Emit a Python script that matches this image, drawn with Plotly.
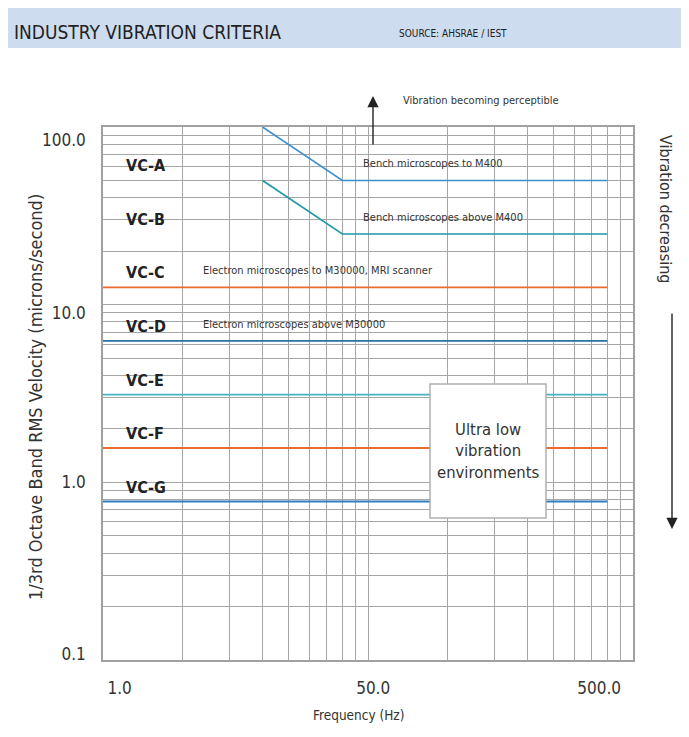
import math
import plotly.graph_objects as go

# ---- data ----
criteria = ["VC-A", "VC-B", "VC-C", "VC-D", "VC-E", "VC-F", "VC-G"]
freq_slope = [4, 8, 80]          # Hz, VC-A / VC-B
vc_a = [100, 50, 50]             # microns/second
vc_b = [50, 25, 25]
freq_flat = [1, 80]              # Hz, VC-C .. VC-G
flat_levels = [12.5, 6.25, 3.12, 1.56, 0.78]
level_at_label = [50, 25, 12.5, 6.25, 3.12, 1.56, 0.78]
colors = ["#3b8fce", "#1b9aa6", "#ee6a2f", "#2571aa", "#45b3c4", "#ee6a2f", "#2d7fbf"]

descriptions = [
    ("Bench microscopes to M400", 9.4, 50),
    ("Bench microscopes above M400", 9.4, 25),
    ("Electron microscopes to M30000, MRI scanner", 2.35, 12.5),
    ("Electron microscopes above M30000", 2.35, 6.25),
]

x_tick_vals = [1.156, 10.46, 74.5]
x_tick_text = ["1.0", "50.0", "500.0"]
y_tick_vals = [84, 9.0, 1.0, 0.108]
y_tick_text = ["100.0", "10.0", "1.0", "0.1"]

x_grid = [2, 3, 4, 5, 6, 7, 8, 9, 10, 20, 30, 40, 50, 60, 70, 80, 90]
y_grid = [0.2, 0.3, 0.4, 0.5, 0.6, 0.7, 0.8, 0.9, 1, 2, 3, 4, 5, 6, 7, 8, 9,
          10, 20, 30, 40, 50, 60, 70, 80, 90]

FONT = "Liberation Sans Narrow, DejaVu Sans Condensed, Roboto, sans-serif"
TXT = "#333333"

OFF = 8  # page body margin
W, H = 673, 721
L, T = 95, 119
PW, PH = 530, 533
R, B = W - L - PW, H - T - PH


def px(x):
    return (x - OFF - L) / PW


def py(y):
    return (OFF + T + PH - y) / PH


fig = go.Figure()
fig.add_trace(go.Scatter(x=freq_slope, y=vc_a, mode="lines", name="VC-A",
                         line=dict(color=colors[0], width=1.6)))
fig.add_trace(go.Scatter(x=freq_slope, y=vc_b, mode="lines", name="VC-B",
                         line=dict(color=colors[1], width=1.6)))
for i, lev in enumerate(flat_levels):
    fig.add_trace(go.Scatter(x=freq_flat, y=[lev, lev], mode="lines",
                             name=criteria[i + 2],
                             line=dict(color=colors[i + 2], width=1.8)))

annotations = []
# VC labels
for name, lev in zip(criteria, level_at_label):
    annotations.append(dict(x=math.log10(1.2), y=math.log10(lev), xref="x", yref="y",
                            text="<b>" + name + "</b>", showarrow=False,
                            xanchor="left", yanchor="bottom", yshift=3,
                            font=dict(family=FONT, size=16, color="#222222")))
for text, fx, lev in descriptions:
    annotations.append(dict(x=math.log10(fx), y=math.log10(lev), xref="x", yref="y",
                            text=text, showarrow=False, xanchor="left",
                            yanchor="bottom", yshift=8,
                            font=dict(family=FONT, size=11, color=TXT)))

# title banner texts
annotations.append(dict(x=px(12), y=py(32), xref="paper", yref="paper",
                        text="INDUSTRY VIBRATION CRITERIA", showarrow=False,
                        xanchor="left", yanchor="middle",
                        font=dict(family=FONT, size=19, color="#222222")))
annotations.append(dict(x=px(397), y=py(34), xref="paper", yref="paper",
                        text="SOURCE: AHSRAE / IEST", showarrow=False,
                        xanchor="left", yanchor="middle",
                        font=dict(family=FONT, size=10, color="#222222")))
# perceptible arrow + text
annotations.append(dict(x=px(373), y=py(96), xref="paper", yref="paper",
                        ax=0, ay=50, text="", showarrow=True, arrowhead=2,
                        arrowsize=1.6, arrowwidth=1.4, arrowcolor="#222222"))
annotations.append(dict(x=px(401), y=py(101), xref="paper", yref="paper",
                        text="Vibration becoming perceptible", showarrow=False,
                        xanchor="left", yanchor="middle",
                        font=dict(family=FONT, size=11, color=TXT)))
# decreasing
annotations.append(dict(x=px(666), y=py(209), xref="paper", yref="paper",
                        text="Vibration decreasing", showarrow=False, textangle=90,
                        xanchor="center", yanchor="middle",
                        font=dict(family=FONT, size=16, color=TXT)))
annotations.append(dict(x=px(672), y=py(529), xref="paper", yref="paper",
                        ax=0, ay=-217, text="", showarrow=True, arrowhead=2,
                        arrowsize=1.6, arrowwidth=1.4, arrowcolor="#222222"))
# box text
annotations.append(dict(x=px(488), y=py(451), xref="paper", yref="paper",
                        text="Ultra low<br>vibration<br>environments", showarrow=False,
                        xanchor="center", yanchor="middle", align="center",
                        font=dict(family=FONT, size=16.5, color=TXT)))
# axis titles
annotations.append(dict(x=px(35), y=py(397), xref="paper", yref="paper",
                        text="1/3rd Octave Band RMS Velocity (microns/second)",
                        showarrow=False, textangle=-90,
                        xanchor="center", yanchor="middle",
                        font=dict(family=FONT, size=18, color=TXT)))
annotations.append(dict(x=px(358), y=py(715), xref="paper", yref="paper",
                        text="Frequency (Hz)", showarrow=False,
                        xanchor="center", yanchor="middle",
                        font=dict(family=FONT, size=13.5, color=TXT)))

shapes = [
    dict(type="rect", xref="paper", yref="paper", x0=px(5), x1=px(686),
         y0=py(48), y1=py(8), fillcolor="#cddcee", line=dict(width=0), layer="below"),
    dict(type="rect", xref="paper", yref="paper", x0=px(430), x1=px(546),
         y0=py(518), y1=py(384), fillcolor="white",
         line=dict(color="#b0b0b0", width=1.5), layer="above"),
]

grid_color = "#a6a6a6"
fig.update_layout(
    width=W, height=H, autosize=False,
    margin=dict(l=L, r=R, t=T, b=B, pad=0),
    paper_bgcolor="white", plot_bgcolor="white",
    showlegend=False,
    annotations=annotations, shapes=shapes,
    xaxis=dict(type="log", range=[0, 2], tickmode="array",
               tickvals=x_tick_vals, ticktext=x_tick_text, showgrid=False,
               ticks="", ticklabelstandoff=12,
               tickfont=dict(family=FONT, size=17, color=TXT),
               showline=True, mirror=True, linecolor="#a0a0a0", linewidth=1.5,
               zeroline=False,
               minor=dict(tickmode="array", tickvals=x_grid, showgrid=True,
                          gridcolor=grid_color, gridwidth=1.2, ticks="")),
    yaxis=dict(type="log", range=[-1, 2], tickmode="array",
               tickvals=y_tick_vals, ticktext=y_tick_text, showgrid=False,
               ticks="", ticklabelstandoff=12,
               tickfont=dict(family=FONT, size=17, color=TXT),
               showline=True, mirror=True, linecolor="#a0a0a0", linewidth=1.5,
               zeroline=False,
               minor=dict(tickmode="array", tickvals=y_grid, showgrid=True,
                          gridcolor=grid_color, gridwidth=1.2, ticks="")),
)

fig.write_html("out.html")
